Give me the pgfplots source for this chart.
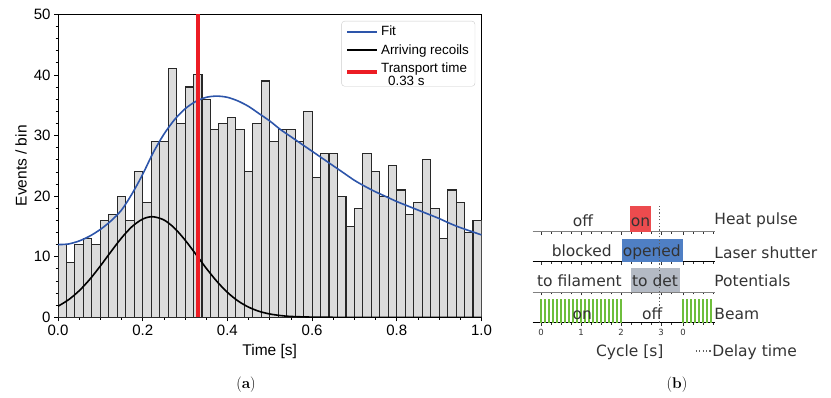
\documentclass[border=0pt]{standalone}
\usepackage{fontspec}
\usepackage{pgfplots}
\pgfplotsset{compat=1.18}
\newfontfamily\arial{Liberation Sans}
\newfontfamily\dejavu{DejaVu Sans}
\definecolor{fitblue}{RGB}{45,85,170}
\definecolor{tred}{RGB}{236,28,36}
\definecolor{barfill}{RGB}{220,220,220}
\definecolor{baredge}{RGB}{40,40,40}
\definecolor{heatred}{RGB}{236,75,78}
\definecolor{laserblue}{RGB}{79,127,196}
\definecolor{potgray}{RGB}{180,186,196}
\definecolor{beamgreen}{RGB}{110,190,60}
\definecolor{txt}{RGB}{51,51,51}
\definecolor{legedge}{RGB}{204,204,204}
\definecolor{dotgray}{RGB}{95,95,95}
\pgfplotsset{
  rowaxis/.style={anchor=south west, scale only axis, width=182.4pt, height=20pt,
    xmin=-0.21, xmax=4.35, ymin=0, ymax=1,
    axis x line*=bottom, axis y line=none, ytick=\empty,
    xtick={0,1,2,3,3.55},
    minor xtick={0.25,0.5,0.75,1.25,1.5,1.75,2.25,2.5,2.75,3.25,3.8,4.05,4.3},
    tick align=outside, major tick length=3pt, minor tick length=2pt,
    xticklabels={}, every tick/.style={txt, line width=0.6pt}},
}
\tikzset{tfont/.style={font=\dejavu\fontsize{15.5}{18}\selectfont, text=txt}}
\begin{document}
\begin{tikzpicture}
\useasboundingbox (0,0) rectangle (831pt,397pt);
% ---------------- panel (a)
\begin{axis}[at={(58pt,79.7pt)}, anchor=south west, scale only axis,
  width=423.5pt, height=303pt,
  xmin=0, xmax=1, ymin=0, ymax=50,
  xtick={0,0.2,0.4,0.6,0.8,1.0}, minor x tick num=3,
  ytick={0,10,20,30,40,50}, minor y tick num=4,
  tick pos=left, tick align=outside,
  major tick length=4pt, minor tick length=2.5pt,
  every tick/.style={black, line width=0.7pt},
  xticklabel style={/pgf/number format/fixed, /pgf/number format/fixed zerofill, /pgf/number format/precision=1},
  /pgf/number format/assume math mode=true,
  tick label style={font=\arial\fontsize{15}{18}\selectfont},
  label style={font=\arial\fontsize{15.5}{18}\selectfont},
  xlabel={Time [s]}, ylabel={Events / bin},
  xlabel style={at={(axis description cs:0.5,-0.112)}, anchor=center},
  ylabel style={at={(axis description cs:-0.087,0.5)}, anchor=center},
  axis line style={line width=0.9pt},
  legend cell align=left,
  legend style={at={(0.985,0.978)}, anchor=north east, draw=legedge, rounded corners=3pt,
    font=\arial\fontsize{13.4}{13.4}\selectfont, inner xsep=4pt, inner ysep=3pt, row sep=3pt},
  legend image code/.code={\draw[#1, sharp corners] (0pt,0pt) -- (30pt,0pt);},
]
\addplot[ybar, bar width=0.02, bar shift=0pt, fill=barfill, draw=baredge, line width=1.1pt, forget plot] coordinates {
(0.01,12)(0.03,9)(0.05,12)(0.07,13)(0.09,12)(0.11,16)(0.13,17)(0.15,20)(0.17,16)(0.19,24)
(0.21,19)(0.23,29)(0.25,29)(0.27,41)(0.29,32)(0.31,38)(0.33,40)(0.35,36)(0.37,31)(0.39,32)
(0.41,33)(0.43,31)(0.45,24)(0.47,32)(0.49,39)(0.51,29)(0.53,31)(0.55,31)(0.57,29)(0.59,34)
(0.61,23)(0.63,27)(0.65,27)(0.67,20)(0.69,15)(0.71,18)(0.73,27)(0.75,24)(0.77,20)(0.79,25)
(0.81,21)(0.83,17)(0.85,19)(0.87,26)(0.89,18)(0.91,13)(0.93,21)(0.95,19)(0.97,14)(0.99,16)};
\addplot[draw=fitblue, line width=1.6pt, smooth] coordinates {
(0,12.0)(0.025,12.1)(0.05,12.6)(0.075,13.4)(0.1,14.5)(0.125,15.9)(0.15,17.7)(0.175,20.4)
(0.2,23.6)(0.225,27.2)(0.25,30.2)(0.275,32.6)(0.3,34.4)(0.325,35.6)(0.35,36.3)(0.375,36.5)
(0.4,36.3)(0.425,35.7)(0.45,34.8)(0.475,33.6)(0.5,32.4)(0.525,31.0)(0.55,29.8)(0.575,28.6)
(0.6,27.4)(0.625,26.2)(0.65,25.0)(0.675,23.8)(0.7,22.6)(0.725,21.6)(0.75,20.7)(0.775,19.9)
(0.8,19.1)(0.825,18.4)(0.85,17.7)(0.875,17.0)(0.9,16.3)(0.925,15.5)(0.95,14.8)(0.975,14.2)(1.0,13.6)};
\addlegendentry{Fit}
\addplot[draw=black, line width=1.6pt, smooth] coordinates {
(0,1.82)(0.025,2.90)(0.05,4.38)(0.075,6.26)(0.1,8.47)(0.125,10.83)(0.15,13.09)(0.175,14.98)
(0.2,16.21)(0.223,16.6)(0.25,16.07)(0.275,14.72)(0.3,12.75)(0.325,10.45)(0.35,8.10)(0.375,5.94)
(0.4,4.12)(0.425,2.70)(0.45,1.68)(0.475,0.98)(0.5,0.55)(0.525,0.29)(0.55,0.14)(0.6,0.03)(0.65,0)(1.0,0)};
\addlegendentry{Arriving recoils}
\addplot[draw=tred, line width=3.5pt] coordinates {(0.33,0)(0.33,50)};
\addlegendentry{\begin{tabular}{@{}l@{}}Transport time\\\hspace*{7pt}0.33 s\end{tabular}}
\end{axis}
% ---------------- panel (b): row baselines with ticks
\begin{axis}[rowaxis, at={(532.6pt,165.3pt)}, x axis line style={draw=gray, line width=1.5pt}]
\addplot[draw=none] coordinates {(0,0.5)};
\end{axis}
\begin{axis}[rowaxis, at={(532.6pt,135.3pt)}, x axis line style={draw=black, line width=1pt}]
\addplot[draw=none] coordinates {(0,0.5)};
\end{axis}
\begin{axis}[rowaxis, at={(532.6pt,104.7pt)}, x axis line style={draw=gray, line width=1.5pt}]
\addplot[draw=none] coordinates {(0,0.5)};
\end{axis}
\begin{axis}[rowaxis, at={(532.6pt,74.5pt)}, x axis line style={draw=black, line width=1pt},
  xticklabels={0,1,2,3,0}, xticklabel style={font=\dejavu\fontsize{8.5}{10}\selectfont, text=txt}]
\addplot[draw=none] coordinates {(0,0.5)};
\end{axis}
% ---------------- panel (b): content
\begin{axis}[at={(532.6pt,74.5pt)}, anchor=south west, scale only axis,
  width=182.4pt, height=121.2pt, xmin=-0.21, xmax=4.35, ymin=0, ymax=4,
  hide axis, clip=false,
  legend style={at={(0.8904,-0.235)}, anchor=west, draw=none, fill=none, inner sep=0pt,
    font=\dejavu\fontsize{15.5}{18}\selectfont, text=txt, nodes={inner xsep=1pt}},
  legend image code/.code={\draw[#1] (0pt,0pt) -- (15pt,0pt);},
]
\addplot[fill=heatred, draw=none, forget plot] coordinates {(2.22,3)(2.74,3)(2.74,3.83)(2.22,3.83)};
\addplot[fill=laserblue, draw=none, forget plot] coordinates {(2.02,2)(3.55,2)(3.55,2.77)(2.02,2.77)};
\addplot[fill=potgray, draw=none, forget plot] coordinates {(2.25,1)(3.48,1)(3.48,1.81)(2.25,1.81)};
\addplot[ycomb, draw=beamgreen, line width=2pt, forget plot] coordinates {
(0,0.78)(0.1,0.78)(0.2,0.78)(0.3,0.78)(0.4,0.78)(0.5,0.78)(0.6,0.78)(0.7,0.78)(0.8,0.78)(0.9,0.78)
(1.0,0.78)(1.1,0.78)(1.2,0.78)(1.3,0.78)(1.4,0.78)(1.5,0.78)(1.6,0.78)(1.7,0.78)(1.8,0.78)(1.9,0.78)(2.0,0.78)};
\addplot[ycomb, draw=beamgreen, line width=2pt, forget plot] coordinates {
(3.55,0.78)(3.65,0.78)(3.75,0.78)(3.85,0.78)(3.95,0.78)(4.05,0.78)(4.15,0.78)(4.25,0.78)};
\addplot[draw=dotgray, line width=1.2pt, dash pattern=on 1.2pt off 2.2pt] coordinates {(2.97,0)(2.97,3.83)};
\addlegendentry{Delay time}
\node[tfont, anchor=base] at (axis cs:1.05,3.16) {off};
\node[tfont, anchor=base] at (axis cs:2.49,3.16) {on};
\node[tfont, anchor=base] at (axis cs:1.02,2.17) {blocked};
\node[tfont, anchor=base] at (axis cs:2.77,2.17) {opened};
\node[tfont, anchor=base] at (axis cs:0.96,1.18) {to filament};
\node[tfont, anchor=base] at (axis cs:2.85,1.18) {to det};
\node[tfont, anchor=base] at (axis cs:1.03,0.10) {on};
\node[tfont, anchor=base] at (axis cs:2.78,0.10) {off};
\node[tfont, anchor=base west, inner xsep=0pt] at (axis cs:4.33,3.24) {Heat pulse};
\node[tfont, anchor=base west, inner xsep=0pt] at (axis cs:4.33,2.12) {Laser shutter};
\node[tfont, anchor=base west, inner xsep=0pt] at (axis cs:4.33,1.18) {Potentials};
\node[tfont, anchor=base west, inner xsep=0pt] at (axis cs:4.33,0.10) {Beam};
\node[tfont, anchor=base] at (axis cs:2.22,-1.106) {Cycle [s]};
\end{axis}
% ---------------- captions
\node[font=\fontsize{15.5}{18}\selectfont] at (246pt,12pt) {(\textbf{a})};
\node[font=\fontsize{15.5}{18}\selectfont] at (677pt,12pt) {(\textbf{b})};
\end{tikzpicture}
\end{document}
